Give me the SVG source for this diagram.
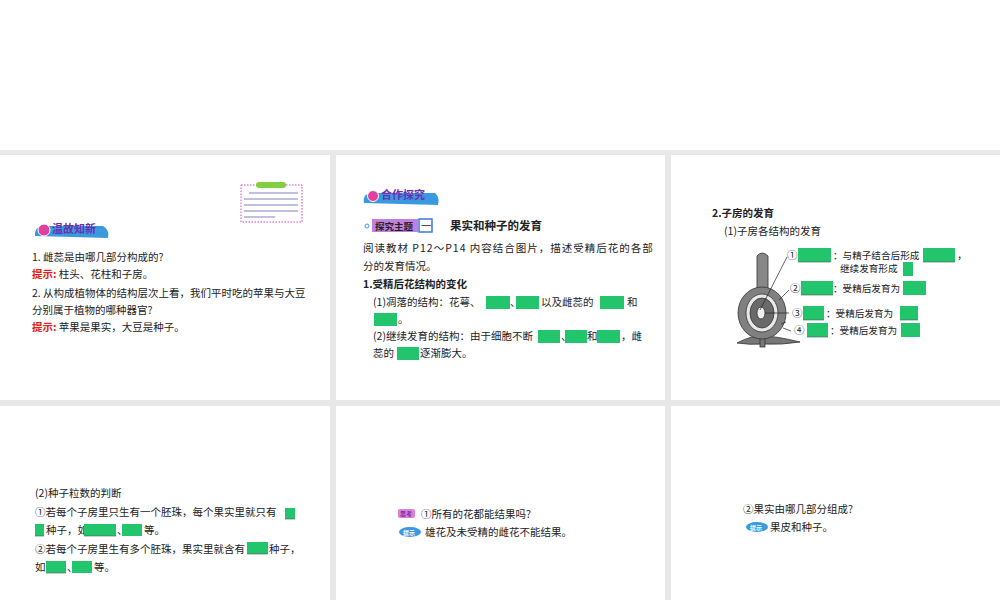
<svg xmlns="http://www.w3.org/2000/svg" width="1000" height="600" viewBox="0 0 1000 600">
<style>
text{font-family:"Noto Sans CJK SC","Liberation Serif",serif;font-size:10.5px;fill:#222}
.b{font-weight:bold}
.r{fill:#e02020;font-weight:bold}
.g{fill:#22c56b}
.ul{stroke:#555;stroke-width:0.6}
.pan{fill:#fff}
.s{font-size:9.6px}
</style>
<rect width="1000" height="600" fill="#fff"/>
<rect y="150" width="1000" height="450" fill="#e8e8e8"/>
<g id="panels">
<rect class="pan" x="0" y="155" width="330" height="245"/>
<rect class="pan" x="336" y="155" width="329" height="245"/>
<rect class="pan" x="671" y="155" width="329" height="245"/>
<rect class="pan" x="0" y="406" width="330" height="194"/>
<rect class="pan" x="336" y="406" width="329" height="194"/>
<rect class="pan" x="671" y="406" width="329" height="194"/>
</g>
<g id="p1">
<rect x="241" y="185" width="61" height="37" fill="#fff" stroke="#d040c0" stroke-dasharray="1.5 1.5"/>
<rect x="256" y="182" width="30" height="6" rx="3" fill="#80d040"/>
<g stroke="#8080c0" stroke-width="1"><line x1="249" y1="193" x2="298" y2="193"/><line x1="244" y1="199" x2="298" y2="199"/><line x1="244" y1="205" x2="298" y2="205"/><line x1="244" y1="211" x2="298" y2="211"/><line x1="244" y1="217" x2="275" y2="217"/></g>
<path d="M35 236 Q34 226 45 226 L103 226 Q110 230 108 238 Z" fill="#3a9ae0"/>
<circle cx="44" cy="230" r="6" fill="#e040a0" stroke="#fff"/>
<text x="52" y="233" class="b" style="fill:#6a30b0;font-size:11px">温故知新</text>
<text x="32" y="261">1. 雌蕊是由哪几部分构成的?</text>
<text x="32" y="278"><tspan class="r">提示:</tspan> 柱头、花柱和子房。</text>
<text x="32" y="297">2. 从构成植物体的结构层次上看，我们平时吃的苹果与大豆</text>
<text x="32" y="314">分别属于植物的哪种器官?</text>
<text x="32" y="331"><tspan class="r">提示:</tspan> 苹果是果实，大豆是种子。</text>
</g>
<g id="p2">
<path d="M364 203 Q362 193 373 193 L435 193 Q440 197 438 205 Z" fill="#3a9ae0"/>
<circle cx="373" cy="196" r="5.5" fill="#e040a0" stroke="#fff"/>
<text x="381" y="199" class="b" style="fill:#6a30b0;font-size:11px">合作探究</text>
<circle cx="367" cy="226" r="2" fill="none" stroke="#3a9ae0"/>
<rect x="372" y="219" width="46" height="13" fill="#c080e0"/>
<text x="375" y="229.5" class="b" style="font-size:9.5px">探究主题</text>
<rect x="419" y="219" width="13" height="13" fill="#fff" stroke="#3a7ae0" stroke-width="1.5"/>
<text x="421" y="229.5">一</text>
<text x="450" y="230" class="b" style="font-size:11.5px">果实和种子的发育</text>
<text x="363" y="252" style="letter-spacing:1px">阅读教材 P12～P14 内容结合图片，描述受精后花的各部</text>
<text x="363" y="270">分的发育情况。</text>
<text x="363" y="288" class="b">1.受精后花结构的变化</text>
<text x="373" y="306">(1)凋落的结构：花萼、</text>
<rect class="g" x="486" y="296" width="24" height="13"/><text x="510" y="306">、</text>
<rect class="g" x="516" y="296" width="23" height="13"/>
<text x="541" y="306">以及雌蕊的</text>
<rect class="g" x="600" y="296" width="24" height="13"/><text x="627" y="306">和</text>
<rect class="g" x="374" y="313" width="23" height="13"/><text x="398" y="323">。</text>
<text x="373" y="340">(2)继续发育的结构：由于细胞不断</text>
<rect class="g" x="538" y="330" width="22" height="13"/><text x="561" y="340">、</text>
<rect class="g" x="565" y="330" width="22" height="13"/><text x="587" y="340">和</text>
<rect class="g" x="597" y="330" width="23" height="13"/><text x="621" y="340">，雌</text>
<text x="373" y="357">蕊的</text>
<rect class="g" x="397" y="347" width="22" height="13"/><text x="420" y="357">逐渐膨大。</text>
</g>
<g id="p3">
<text x="712" y="217" class="b">2.子房的发育</text>
<text x="724" y="235">(1)子房各结构的发育</text>
<g stroke="#333" stroke-width="0.8">
<path d="M737 343 Q752 335 763 336 Q776 336 800 342 Q782 345 763 344 Q750 345 737 343 Z" fill="#777"/>
<rect x="760" y="334" width="5" height="13" fill="#777"/>
<path d="M757 256 Q762 250 768 256 L768 290 L757 290 Z" fill="#888"/>
<ellipse cx="762" cy="313" rx="24" ry="26" fill="#808080"/>
<ellipse cx="762" cy="313" rx="16" ry="19" fill="#e8e8e8"/>
<ellipse cx="762" cy="313" rx="12" ry="15" fill="#6a6a6a"/>
<ellipse cx="761" cy="313" rx="4" ry="6" fill="#f0f0f0"/>
</g>
<g stroke="#222" stroke-width="0.7" fill="none">
<line x1="760" y1="310" x2="787" y2="257"/>
<line x1="779" y1="300" x2="789" y2="290"/>
<line x1="765" y1="313" x2="789" y2="313"/>
<path d="M781 324 L786 322 M783 328 L791 331"/>
</g>
<text x="787" y="259">①</text>
<rect class="g" x="798" y="248" width="33" height="14"/><line class="ul" x1="798" y1="262" x2="831" y2="262"/>
<text x="833" y="259" class="s">：与精子结合后形成</text>
<rect class="g" x="923" y="248" width="32" height="14"/><line class="ul" x1="923" y1="262" x2="955" y2="262"/>
<text x="957" y="259">，</text>
<text x="840" y="272" class="s">继续发育形成</text>
<rect class="g" x="903" y="262" width="10" height="14"/>
<text x="790" y="292">②</text>
<rect class="g" x="801" y="281" width="32" height="14"/><line class="ul" x1="801" y1="295" x2="833" y2="295"/>
<text x="833" y="292" class="s">：受精后发育为</text>
<rect class="g" x="903" y="281" width="23" height="14"/>
<text x="792" y="317">③</text>
<rect class="g" x="803" y="306" width="21" height="14"/><line class="ul" x1="803" y1="320" x2="824" y2="320"/>
<text x="826" y="317" class="s">：受精后发育为</text>
<rect class="g" x="900" y="306" width="18" height="14"/><line class="ul" x1="900" y1="320" x2="918" y2="320"/>
<text x="794" y="334">④</text>
<rect class="g" x="807" y="323" width="21" height="14"/><line class="ul" x1="807" y1="337" x2="828" y2="337"/>
<text x="830" y="334" class="s">：受精后发育为</text>
<rect class="g" x="901" y="323" width="19" height="14"/>
</g>
<g id="p4">
<text x="35" y="497">(2)种子粒数的判断</text>
<text x="35" y="516">①若每个子房里只生有一个胚珠，每个果实里就只有</text>
<rect class="g" x="285" y="508" width="10" height="11"/><line class="ul" x1="285" y1="519" x2="295" y2="519"/>
<rect class="g" x="35" y="524" width="9" height="12"/><line class="ul" x1="35" y1="536" x2="44" y2="536"/>
<text x="46" y="534">种子，如</text>
<rect class="g" x="84" y="524" width="32" height="12"/><line class="ul" x1="84" y1="536" x2="116" y2="536"/>
<text x="117" y="534">、</text>
<rect class="g" x="122" y="524" width="20" height="12"/><text x="144" y="534">等。</text>
<text x="35" y="553">②若每个子房里生有多个胚珠，果实里就含有</text>
<rect class="g" x="247" y="542" width="21" height="12"/><line class="ul" x1="247" y1="554" x2="268" y2="554"/>
<text x="269" y="553">种子，</text>
<text x="35" y="571">如</text>
<rect class="g" x="46" y="561" width="20" height="12"/><line class="ul" x1="46" y1="573" x2="66" y2="573"/>
<text x="67" y="571">、</text>
<rect class="g" x="72" y="561" width="20" height="12"/><text x="94" y="571">等。</text>
</g>
<g id="p5">
<rect x="398" y="509" width="17" height="9" rx="2" fill="#e080d0"/>
<text x="400" y="516" style="font-size:6px;fill:#6a30b0" class="b">思考</text>
<text x="421" y="518">①所有的花都能结果吗?</text>
<ellipse cx="410" cy="532" rx="11" ry="5" fill="#3a9ae0"/>
<text x="403" y="534.5" style="font-size:6px;fill:#fff" class="b">提示</text>
<text x="425" y="536">雄花及未受精的雌花不能结果。</text>
</g>
<g id="p6">
<text x="743" y="513">②果实由哪几部分组成?</text>
<ellipse cx="757" cy="527" rx="11" ry="5" fill="#3a9ae0"/>
<text x="750" y="529.5" style="font-size:6px;fill:#fff" class="b">提示</text>
<text x="770" y="531">果皮和种子。</text>
</g>
</svg>
